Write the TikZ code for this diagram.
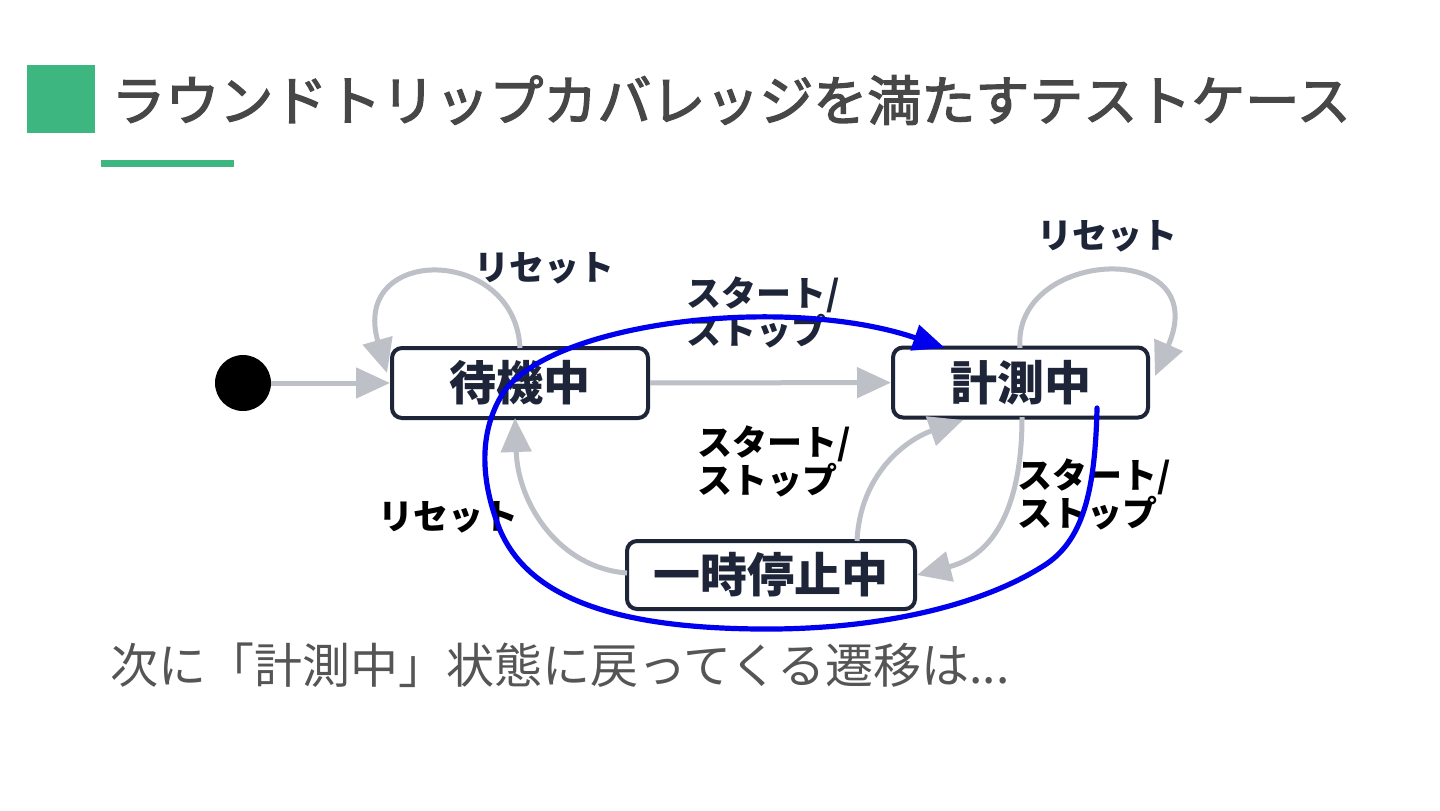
\documentclass[tikz,border=0pt]{standalone}
\usepackage{fontspec}
\setmainfont{Noto Sans CJK JP}
\newfontfamily\titlefont[FakeBold=2.5]{Noto Sans CJK JP}
\usetikzlibrary{arrows.meta}
\definecolor{grn}{HTML}{3DB67F}
\definecolor{navy}{HTML}{1E2538}
\definecolor{arrgray}{HTML}{BEC0C7}
\definecolor{titlegray}{HTML}{474747}
\definecolor{txtgray}{HTML}{555555}
\definecolor{handblue}{HTML}{0000EE}
\tikzset{
  stbox/.style={draw=navy, line width=2pt, rounded corners=5pt, fill=white, text=navy,
    inner sep=0pt, minimum height=35pt, font=\fontsize{23.5}{28}\selectfont\bfseries},
  garrow/.style={draw=arrgray, line width=2.5pt, -{Triangle[length=17pt,width=15pt]}},
  elabel/.style={align=left, anchor=west, inner sep=0pt, font=\fontsize{17.5}{19}\selectfont\bfseries},
}
\begin{document}
\begin{tikzpicture}[x=0.5pt,y=-0.5pt]
\path[use as bounding box, fill=white] (0,0) rectangle (1440,810);
% header
\fill[grn] (27,65) rectangle (95,133);
\node[anchor=west, inner sep=0pt, text=titlegray, font=\titlefont\fontsize{27}{32}\selectfont] (title) at (111,100) {ラウンドトリップカバレッジを満たすテストケース};
\fill[grn] (101,160) rectangle (234,167);
% states
\node[circle, fill=black, minimum size=28pt, inner sep=0pt] (init) at (243,383) {};
\node[stbox, minimum width=128pt] (wait) at (520,383) {待機中};
\node[stbox, minimum width=127.5pt] (meas) at (1020.5,382.5) {計測中};
\node[stbox, minimum width=144pt, minimum height=34pt] (pause) at (771,575) {一時停止中};
% connector anchor points
\coordinate (wloopS) at (520,348);
\coordinate (wloopE) at (387,373);
\coordinate (mloopS) at (1020,348);
\coordinate (mloopE) at (1155,376);
\coordinate (mbot) at (1022,417);
\coordinate (pright) at (917,575);
\coordinate (ptop) at (857,541);
\coordinate (mbotl) at (963,420);
\coordinate (pleft) at (627,573);
\coordinate (wbot) at (515,418);
% gray transitions
\draw[garrow] (init) -- (wait);
\draw[garrow] (wait) -- (meas);
\draw[garrow] (wloopS) .. controls (515,245) and (350,245) .. (wloopE);
\draw[garrow] (mloopS) .. controls (1012,248) and (1215,238) .. (mloopE);
\draw[garrow] (mbot) .. controls (1022,505) and (995,555) .. (pright);
\draw[garrow] (ptop) .. controls (860,475) and (905,440) .. (mbotl);
\draw[garrow] (pleft) .. controls (560,568) and (518,505) .. (wbot);
% labels
\node[elabel, text=navy] (l1) at (474,268) {リセット};
\node[elabel, text=navy] (l2) at (1037,236) {リセット};
\node[elabel, text=navy] (l3) at (686,312) {スタート/\\ストップ};
\node[elabel, text=black] (l4) at (697,461) {スタート/\\ストップ};
\node[elabel, text=black] (l5) at (1017,494) {スタート/\\ストップ};
\node[elabel, text=black] (l6) at (378,517) {リセット};
% hand-drawn blue path
\coordinate (bstart) at (1097,408);
\coordinate (bend) at (945,348);
\draw[handblue, line width=2.6pt, line cap=round, -{Triangle[length=16pt,width=13pt]}]
  (bstart) .. controls (1095,500) and (1080,545) .. (1040,568)
  .. controls (980,605) and (880,630) .. (760,629)
  .. controls (620,628) and (530,600) .. (500,530)
  .. controls (480,480) and (478,430) .. (505,390)
  .. controls (560,320) and (790,295) .. (bend);
% bottom text
\node[anchor=west, inner sep=0pt, text=txtgray, font=\fontsize{24}{28}\selectfont] (note) at (110,665) {次に「計測中」状態に戻ってくる遷移は...};
\end{tikzpicture}
\end{document}
